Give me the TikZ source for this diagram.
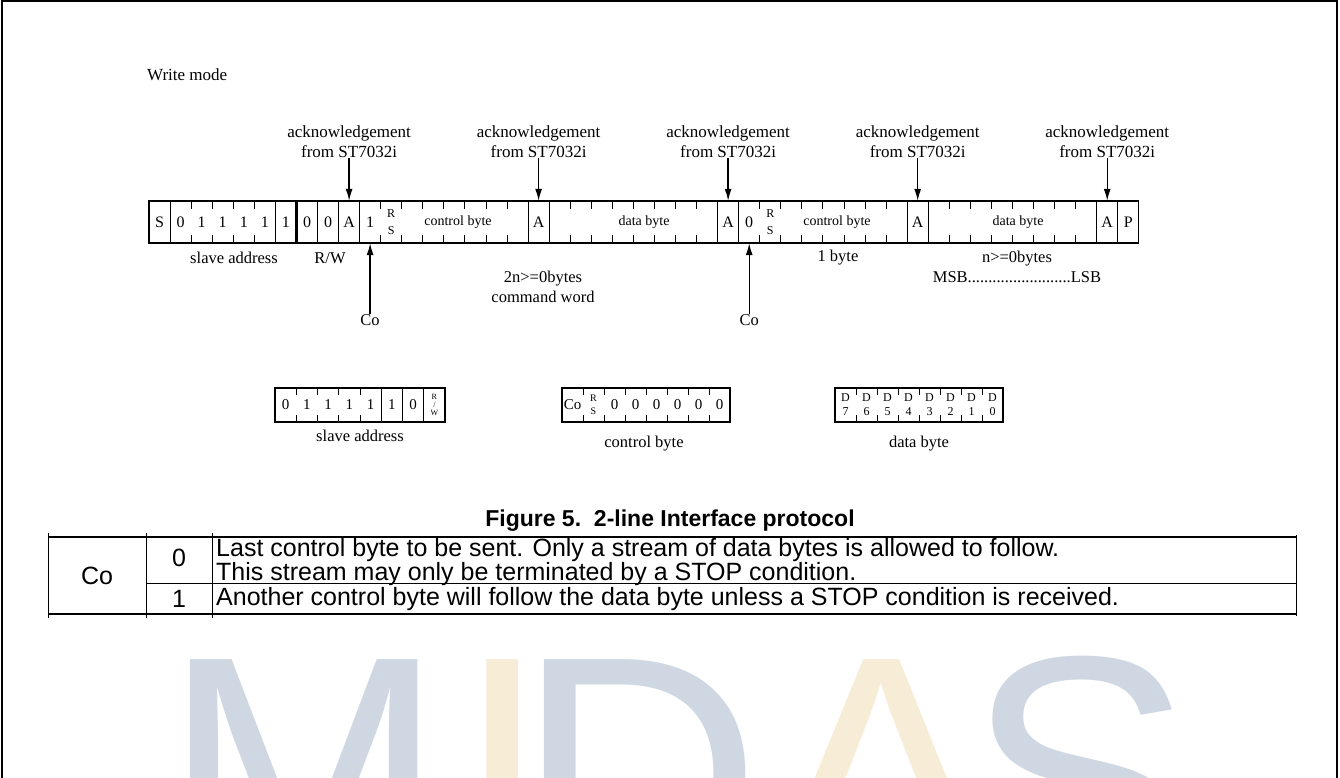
\documentclass[tikz,border=0pt]{standalone}
\usepackage{fontspec}
\setmainfont{Liberation Serif}
\newfontfamily\tablefont{Liberation Sans}
\usepackage{tikz}
\usetikzlibrary{positioning}
\usetikzlibrary{arrows.meta}
\definecolor{wm_blue}{RGB}{207,216,226}
\definecolor{wm_beige}{RGB}{247,236,214}
\tikzset{
  bar_line/.style={line width=1.2pt, color=black},
  bar_thick/.style={line width=2.6pt, color=black},
  bit_tick/.style={line width=1pt, color=black},
  arrow_ack/.style={-{Latex[length=12pt, width=7pt]}, line width=1.3pt, color=black},
  bit_cell/.style={inner sep=0, minimum width=21pt, minimum height=42pt, font=\fontsize{16}{18}\selectfont},
  small_cell/.style={inner sep=0, minimum width=21pt, minimum height=34pt, font=\fontsize{15}{16}\selectfont},
  rs_stack/.style={align=center, font=\fontsize{12}{17}\selectfont},
  tiny_stack/.style={align=center, font=\fontsize{8}{8}\selectfont},
  d_stack/.style={align=center, font=\fontsize{12}{14}\selectfont},
  byte_text/.style={inner sep=0, font=\fontsize{14}{16}\selectfont},
  label_text/.style={inner sep=0, align=center, font=\fontsize{16.5}{19.5}\selectfont},
  caption_text/.style={inner sep=0, font=\tablefont\bfseries\fontsize{23}{25}\selectfont},
  table_text/.style={inner sep=0, align=left, font=\tablefont\fontsize{25}{19.5}\selectfont},
  wm_letter/.style={inner sep=0, anchor=base west, font=\tablefont\fontsize{340}{340}\selectfont}
}

\begin{document}
\begin{tikzpicture}[x=1pt, y=-1pt]
\useasboundingbox (0,0) rectangle (1340,778);
\clip (0,0) rectangle (1340,778);

%% Watermark
\node[wm_letter, text=wm_blue]  (wm_m) at (162,893) {M};
\node[wm_letter, text=wm_beige] (wm_i) at (455,893) {I};
\node[wm_letter, text=wm_blue]  (wm_d) at (516,893) {D};
\node[wm_letter, text=wm_beige] (wm_a) at (767,893) {A};
\node[wm_letter, text=wm_blue]  (wm_s) at (966,893) {S};

%% Frame
\draw[line width=1.5pt] (2,778) -- (2,1) -- (1337,1) -- (1337,778);

\node[label_text, anchor=west, font=\fontsize{17}{19}\selectfont] (mode_lbl) at (147,75) {Write mode};

%% Main bar
\node[bit_cell] (s_bit)  at (159.5,222) {S};
\node[bit_cell] (sa6)    at (180.6,222) {0};
\node[bit_cell] (sa5)    at (201.7,222) {1};
\node[bit_cell] (sa4)    at (222.7,222) {1};
\node[bit_cell] (sa3)    at (243.8,222) {1};
\node[bit_cell] (sa2)    at (264.8,222) {1};
\node[bit_cell] (sa1)    at (285.9,222) {1};
\node[bit_cell] (sa0)    at (307.0,222) {0};
\node[bit_cell] (rw_bit) at (328.0,222) {0};
\node[bit_cell] (a1)     at (349.1,222) {A};
\node[bit_cell] (co1)    at (370.1,222) {1};
\node[bit_cell, rs_stack] (rs1) at (391.2,222) {R\\S};
\node[byte_text] (ctrl1) at (458,222) {control byte};
\node[bit_cell] (a2)     at (538.6,222) {A};
\node[byte_text] (data1) at (644,222) {data byte};
\node[bit_cell] (a3)     at (728.1,222) {A};
\node[bit_cell] (co2)    at (749.2,222) {0};
\node[bit_cell, rs_stack] (rs2) at (770.3,222) {R\\S};
\node[byte_text] (ctrl2) at (837,222) {control byte};
\node[bit_cell] (a4)     at (917.7,222) {A};
\node[byte_text] (data2) at (1018,222) {data byte};
\node[bit_cell] (a5)     at (1107.2,222) {A};
\node[bit_cell] (p_bit)  at (1128.3,222) {P};

\draw[bar_line] (149,201) rectangle (1138.8,243);
\draw[bar_line] (170.1,201) -- (170.1,243) (275.4,201) -- (275.4,243)
                (317.5,201) -- (317.5,243) (338.5,201) -- (338.5,243)
                (359.6,201) -- (359.6,243) (528.1,201) -- (528.1,243)
                (549.1,201) -- (549.1,243) (717.6,201) -- (717.6,243)
                (738.7,201) -- (738.7,243) (907.2,201) -- (907.2,243)
                (928.2,201) -- (928.2,243) (1096.7,201) -- (1096.7,243)
                (1117.8,201) -- (1117.8,243);
\draw[bar_thick] (296.4,243) -- (296.4,201) -- (317.5,201);

%% Ticks
\draw[bit_tick] (191.1,201) -- ++(0,8) (191.1,243) -- ++(0,-8) (212.2,201) -- ++(0,8) (212.2,243) -- ++(0,-8)
                (233.2,201) -- ++(0,8) (233.2,243) -- ++(0,-8) (254.3,201) -- ++(0,8) (254.3,243) -- ++(0,-8);
\draw[bit_tick] (380.7,201) -- ++(0,8) (380.7,243) -- ++(0,-8) (401.7,201) -- ++(0,8) (401.7,243) -- ++(0,-8)
                (422.8,201) -- ++(0,8) (422.8,243) -- ++(0,-8) (443.8,201) -- ++(0,8) (443.8,243) -- ++(0,-8)
                (464.9,201) -- ++(0,8) (464.9,243) -- ++(0,-8) (486.0,201) -- ++(0,8) (486.0,243) -- ++(0,-8)
                (507.0,201) -- ++(0,8) (507.0,243) -- ++(0,-8);
\draw[bit_tick] (570.2,201) -- ++(0,8) (570.2,243) -- ++(0,-8) (591.3,201) -- ++(0,8) (591.3,243) -- ++(0,-8)
                (612.3,201) -- ++(0,8) (612.3,243) -- ++(0,-8) (633.4,201) -- ++(0,8) (633.4,243) -- ++(0,-8)
                (654.4,201) -- ++(0,8) (654.4,243) -- ++(0,-8) (675.5,201) -- ++(0,8) (675.5,243) -- ++(0,-8)
                (696.6,201) -- ++(0,8) (696.6,243) -- ++(0,-8);
\draw[bit_tick] (759.7,201) -- ++(0,8) (759.7,243) -- ++(0,-8) (780.8,201) -- ++(0,8) (780.8,243) -- ++(0,-8)
                (801.9,201) -- ++(0,8) (801.9,243) -- ++(0,-8) (822.9,201) -- ++(0,8) (822.9,243) -- ++(0,-8)
                (844.0,201) -- ++(0,8) (844.0,243) -- ++(0,-8) (865.0,201) -- ++(0,8) (865.0,243) -- ++(0,-8)
                (886.1,201) -- ++(0,8) (886.1,243) -- ++(0,-8);
\draw[bit_tick] (949.3,201) -- ++(0,8) (949.3,243) -- ++(0,-8) (970.3,201) -- ++(0,8) (970.3,243) -- ++(0,-8)
                (991.4,201) -- ++(0,8) (991.4,243) -- ++(0,-8) (1012.5,201) -- ++(0,8) (1012.5,243) -- ++(0,-8)
                (1033.5,201) -- ++(0,8) (1033.5,243) -- ++(0,-8) (1054.6,201) -- ++(0,8) (1054.6,243) -- ++(0,-8)
                (1075.6,201) -- ++(0,8) (1075.6,243) -- ++(0,-8);

%% Acknowledgements
\node[label_text, font=\fontsize{17}{20}\selectfont] (ack1) at (349.1,142) {acknowledgement\\from ST7032i};
\node[label_text, font=\fontsize{17}{20}\selectfont] (ack2) at (538.6,142) {acknowledgement\\from ST7032i};
\node[label_text, font=\fontsize{17}{20}\selectfont] (ack3) at (728.1,142) {acknowledgement\\from ST7032i};
\node[label_text, font=\fontsize{17}{20}\selectfont] (ack4) at (917.7,142) {acknowledgement\\from ST7032i};
\node[label_text, font=\fontsize{17}{20}\selectfont] (ack5) at (1107.2,142) {acknowledgement\\from ST7032i};
\draw[arrow_ack] (ack1) -- (a1);
\draw[arrow_ack] (ack2) -- (a2);
\draw[arrow_ack] (ack3) -- (a3);
\draw[arrow_ack] (ack4) -- (a4);
\draw[arrow_ack] (ack5) -- (a5);

%% Labels below the bar
\node[label_text] (slave_lbl)  at (234,258) {slave address};
\node[label_text] (rw_lbl)     at (330,258) {R/W};
\node[label_text] (cmd_lbl)    at (543,287) {2n>=0bytes\\command word};
\node[label_text] (byte_lbl)   at (838,258) {1 byte};
\node[label_text] (nbytes_lbl) at (1017,267) {n>=0bytes\\MSB.........................LSB};
\node[label_text] (co_lbl1)    at (370.1,320) {Co};
\node[label_text] (co_lbl2)    at (749.2,320) {Co};
\draw[arrow_ack] (co_lbl1) -- (co1);
\draw[arrow_ack] (co_lbl2) -- (co2);

%% Slave address byte
\node[small_cell] (sb6) at (285.6,405) {0};
\node[small_cell] (sb5) at (306.9,405) {1};
\node[small_cell] (sb4) at (328.1,405) {1};
\node[small_cell] (sb3) at (349.4,405) {1};
\node[small_cell] (sb2) at (370.6,405) {1};
\node[small_cell] (sb1) at (391.9,405) {1};
\node[small_cell] (sb0) at (413.1,405) {0};
\node[small_cell, tiny_stack] (sb_rw) at (434.4,405) {R\\/\\W};
\draw[bar_line] (275,388) rectangle (445,422);
\draw[bar_line] (381.2,388) -- (381.2,422) (402.5,388) -- (402.5,422) (423.7,388) -- (423.7,422);
\draw[bit_tick] (296.2,388) -- ++(0,7) (296.2,422) -- ++(0,-7) (317.5,388) -- ++(0,7) (317.5,422) -- ++(0,-7)
                (338.7,388) -- ++(0,7) (338.7,422) -- ++(0,-7) (360.0,388) -- ++(0,7) (360.0,422) -- ++(0,-7);
\node[label_text] (slave_box_lbl) at (360,436) {slave address};

%% Control byte
\node[small_cell] (cb_co) at (572.5,405) {Co};
\node[small_cell, rs_stack, font=\fontsize{10}{13}\selectfont] (cb_rs) at (593.5,405) {R\\S};
\node[small_cell] (cb5) at (614.5,405) {0};
\node[small_cell] (cb4) at (635.5,405) {0};
\node[small_cell] (cb3) at (656.5,405) {0};
\node[small_cell] (cb2) at (677.5,405) {0};
\node[small_cell] (cb1) at (698.5,405) {0};
\node[small_cell] (cb0) at (719.5,405) {0};
\draw[bar_line] (562,388) rectangle (730,422);
\draw[bit_tick] (583,388) -- ++(0,7) (583,422) -- ++(0,-7) (604,388) -- ++(0,7) (604,422) -- ++(0,-7)
                (625,388) -- ++(0,7) (625,422) -- ++(0,-7) (646,388) -- ++(0,7) (646,422) -- ++(0,-7)
                (667,388) -- ++(0,7) (667,422) -- ++(0,-7) (688,388) -- ++(0,7) (688,422) -- ++(0,-7)
                (709,388) -- ++(0,7) (709,422) -- ++(0,-7);
\node[label_text] (ctrl_box_lbl) at (644,444) {control byte};

%% Data byte
\node[small_cell, d_stack] (db7) at (845.5,405) {D\\7};
\node[small_cell, d_stack] (db6) at (866.5,405) {D\\6};
\node[small_cell, d_stack] (db5) at (887.5,405) {D\\5};
\node[small_cell, d_stack] (db4) at (908.5,405) {D\\4};
\node[small_cell, d_stack] (db3) at (929.5,405) {D\\3};
\node[small_cell, d_stack] (db2) at (950.5,405) {D\\2};
\node[small_cell, d_stack] (db1) at (971.5,405) {D\\1};
\node[small_cell, d_stack] (db0) at (992.5,405) {D\\0};
\draw[bar_line] (835,388) rectangle (1003,422);
\draw[bit_tick] (856,388) -- ++(0,7) (856,422) -- ++(0,-7) (877,388) -- ++(0,7) (877,422) -- ++(0,-7)
                (898,388) -- ++(0,7) (898,422) -- ++(0,-7) (919,388) -- ++(0,7) (919,422) -- ++(0,-7)
                (940,388) -- ++(0,7) (940,422) -- ++(0,-7) (961,388) -- ++(0,7) (961,422) -- ++(0,-7)
                (982,388) -- ++(0,7) (982,422) -- ++(0,-7);
\node[label_text] (data_box_lbl) at (919,444) {data byte};

%% Caption and table
\node[caption_text] (fig_caption) at (670,521) {Figure 5.\ \ 2-line Interface protocol};
\draw[line width=1.6pt] (48,537) -- (1296,537) (48,614) -- (1296,614);
\draw[line width=1pt] (146,583) -- (1296,583);
\draw[line width=1pt] (48,533) -- (48,618) (146,533) -- (146,618) (212,533) -- (212,618) (1296,535) -- (1296,616);
\node[table_text] (co_cell)   at (97,576)  {Co};
\node[table_text] (bit0_cell) at (179,558) {0};
\node[table_text] (bit1_cell) at (179,599) {1};
\node[table_text, anchor=west] (desc0_cell) at (216,562) {Last control byte to be sent. Only a stream of data bytes is allowed to follow.\\This stream may only be terminated by a STOP condition.};
\node[table_text, anchor=west] (desc1_cell) at (216,599) {Another control byte will follow the data byte unless a STOP condition is received.};

\end{tikzpicture}
\end{document}
